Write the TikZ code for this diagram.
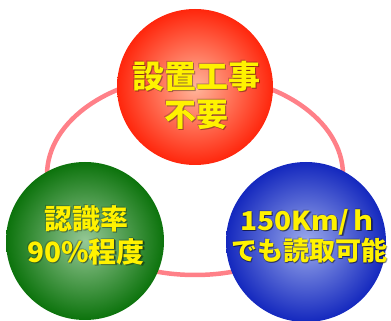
\documentclass[tikz,border=0pt]{standalone}
\usepackage{fontspec}
\newfontfamily\jp{Noto Sans CJK JP}
\tikzset{
  lbl/.style={align=center, inner sep=0pt, text=yellow},
  shad/.style={align=center, inner sep=0pt, text=black, opacity=0.35},
}
\definecolor{ringc}{HTML}{FF8088}
\newcommand{\glowlbl}[4]{%
  \node[shad,#4] at ([shift={(1.6pt,-1.6pt)}]#1) {#3};
  \node[shad,#4] at ([shift={(0.8pt,-0.8pt)}]#1) {#3};
  \node[shad,#4,opacity=0.2] at ([shift={(-0.6pt,0.6pt)}]#1) {#3};
  \node[lbl,#4] (#2) at (#1) {#3};
}
\begin{document}
\begin{tikzpicture}[x=1pt,y=1pt]
\useasboundingbox (0,0) rectangle (391,321);
% ring
\draw[draw=ringc, line width=4.5pt] (195,146) ellipse [x radius=148pt, y radius=100pt];
% circles (y = 321 - pixel y)
\shade[inner color={rgb,255:red,255;green,182;blue,155}, outer color={rgb,255:red,255;green,38;blue,12}]
  (195,234) circle (78pt);
\shade[inner color={rgb,255:red,150;green,200;blue,150}, outer color={rgb,255:red,12;green,115;blue,12}]
  (85,80) circle (79pt);
\shade[inner color={rgb,255:red,155;green,170;blue,236}, outer color={rgb,255:red,20;green,40;blue,190}]
  (306,79) circle (80pt);
\coordinate (r) at (196,226);
\coordinate (g) at (86,86);
\coordinate (b) at (309,85);
\glowlbl{r}{rt}{設置工事\\不要}{font=\jp\bfseries\fontsize{32}{38}\selectfont}
\glowlbl{g}{gt}{認識率\\90\%程度}{font=\jp\bfseries\fontsize{28}{33}\selectfont}
\glowlbl{b}{bt}{\scalebox{1.08}[1]{150Km/ｈ}\\でも読取可能}{font=\jp\bfseries\fontsize{26}{30}\selectfont}
\end{tikzpicture}
\end{document}
